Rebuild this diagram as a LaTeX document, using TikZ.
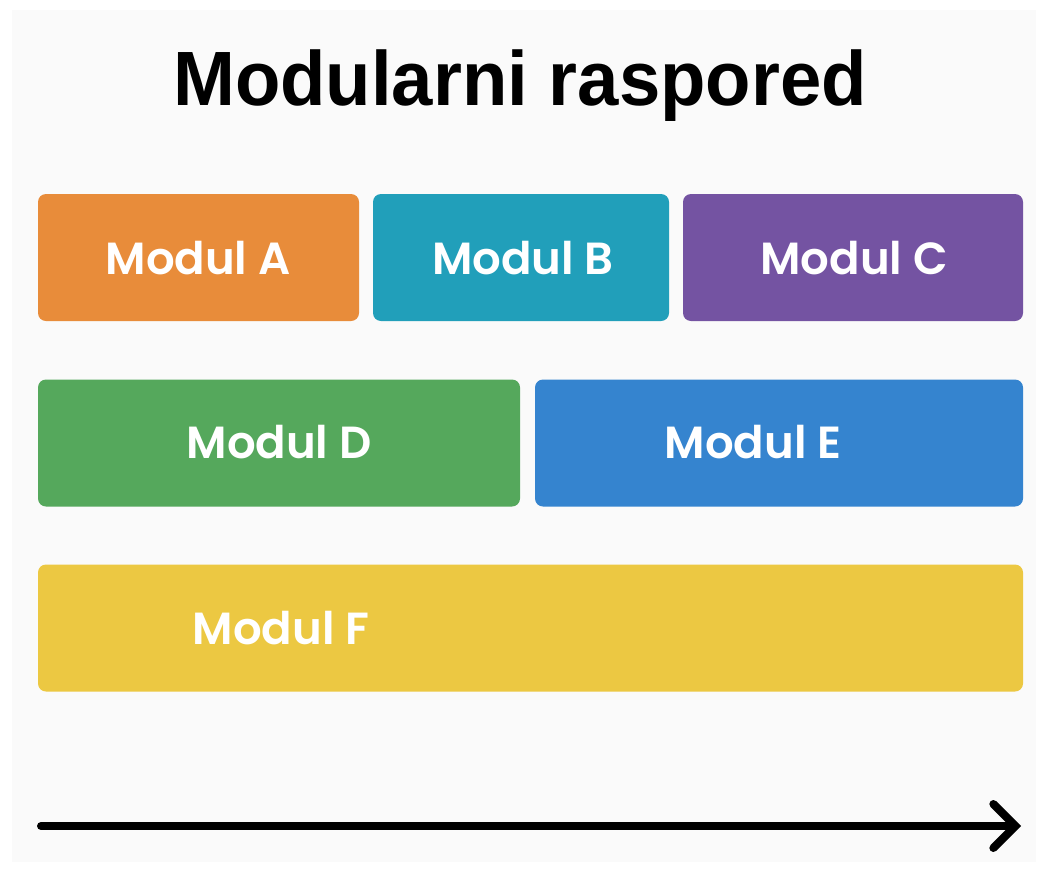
\documentclass[tikz,border=0pt]{standalone}
\usepackage{fontspec}
\setmainfont{Liberation Sans}
\newfontfamily\popfont{Poppins SemiBold}
\usetikzlibrary{arrows.meta}
\definecolor{bgpanel}{HTML}{FAFAFA}
\definecolor{cA}{HTML}{E88C3A}
\definecolor{cB}{HTML}{219FBA}
\definecolor{cC}{HTML}{7453A2}
\definecolor{cD}{HTML}{55A85C}
\definecolor{cE}{HTML}{3584CF}
\definecolor{cF}{HTML}{ECC842}
\tikzset{
  modbox/.style={rounded corners=8pt, inner sep=0pt, outer sep=0pt, minimum height=127pt},
  modtext/.style={text=white, font=\popfont\fontsize{45}{52}\selectfont, inner sep=0pt},
  timeline/.style={line width=8pt, line cap=round, -{Straight Barb[length=22pt, width=44pt, line width=8pt, line cap=round]}}
}
\begin{document}
\begin{tikzpicture}[x=1pt, y=-1pt]
\useasboundingbox (0,0) rectangle (1040,870);
\fill[white] (0,0) rectangle (1040,870);
\fill[bgpanel] (12,10) rectangle (1036,862);
\node[font=\bfseries\fontsize{77}{90}\selectfont, xscale=0.965, inner sep=0pt, anchor=base] (title) at (520,105) {Modularni raspored};
% row 1
\node[modbox, fill=cA, minimum width=321pt] (A) at (198.5,257.5) {};
\node[modbox, fill=cB, minimum width=296pt] (B) at (521,257.5) {};
\node[modbox, fill=cC, minimum width=340pt] (C) at (853,257.5) {};
% row 2
\node[modbox, fill=cD, minimum width=482pt] (D) at (279,443) {};
\node[modbox, fill=cE, minimum width=488pt] (E) at (779,443) {};
% row 3
\node[modbox, fill=cF, minimum width=985pt] (F) at (530.5,628) {};
% labels
\node[modtext] (tA) at (198,258) {Modul A};
\node[modtext] (tB) at (523,258) {Modul B};
\node[modtext] (tC) at (854,258) {Modul C};
\node[modtext] (tD) at (279,442) {Modul D};
\node[modtext] (tE) at (753,442) {Modul E};
\node[modtext] (tF) at (281,628) {Modul F};
% timeline
\coordinate (t0) at (41,826);
\coordinate (t1) at (1021,826);
\draw[timeline] (t0) -- (t1);
\end{tikzpicture}
\end{document}
